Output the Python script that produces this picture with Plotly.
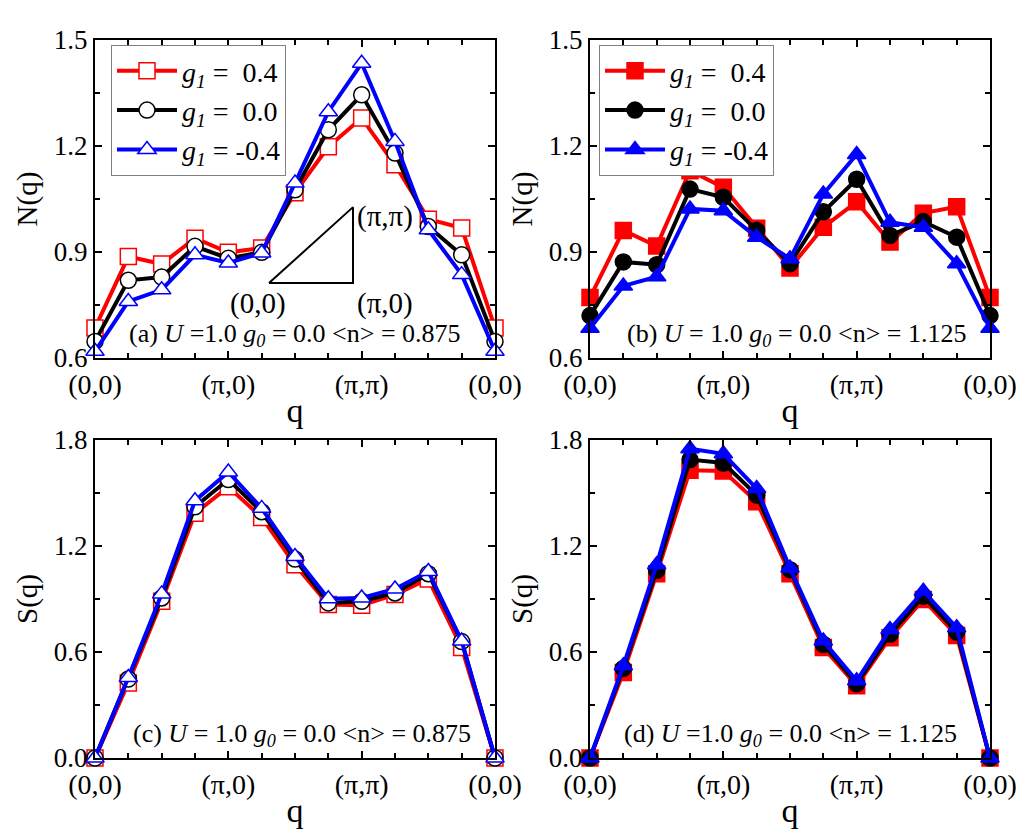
import plotly.graph_objects as go

q_index = list(range(13))
q_tickvals = [0, 4, 8, 12]
q_ticktext = ["(0,0)", "(π,0)", "(π,π)", "(0,0)"]

g1_labels = ["0.4", "0.0", "-0.4"]
colors = ["#FF0000", "#000000", "#0000FF"]
symbols = ["square", "circle", "triangle-up"]

# Panel (a): N(q), <n> = 0.875
Na_p04 = [0.685, 0.887, 0.866, 0.939, 0.899, 0.911, 1.068, 1.198, 1.279, 1.147, 0.993, 0.968, 0.685]
Na_000 = [0.647, 0.820, 0.829, 0.916, 0.882, 0.899, 1.076, 1.246, 1.345, 1.180, 0.972, 0.892, 0.647]
Na_m04 = [0.619, 0.760, 0.793, 0.892, 0.869, 0.897, 1.095, 1.297, 1.434, 1.213, 0.963, 0.836, 0.619]

# Panel (b): N(q), <n> = 1.125
Nb_p04 = [0.771, 0.961, 0.917, 1.130, 1.083, 0.967, 0.855, 0.970, 1.042, 0.928, 1.010, 1.028, 0.771]
Nb_000 = [0.720, 0.872, 0.864, 1.078, 1.055, 0.961, 0.867, 1.014, 1.106, 0.947, 0.986, 0.942, 0.720]
Nb_m04 = [0.684, 0.804, 0.830, 1.022, 1.017, 0.942, 0.881, 1.064, 1.176, 0.984, 0.970, 0.867, 0.684]

# Panel (c): S(q), <n> = 0.875
Sc_p04 = [0.0, 0.424, 0.887, 1.385, 1.535, 1.362, 1.094, 0.869, 0.865, 0.925, 1.013, 0.625, 0.0]
Sc_000 = [0.0, 0.447, 0.906, 1.422, 1.576, 1.394, 1.126, 0.878, 0.887, 0.934, 1.043, 0.659, 0.0]
Sc_m04 = [0.0, 0.456, 0.929, 1.456, 1.619, 1.413, 1.141, 0.901, 0.906, 0.957, 1.056, 0.662, 0.0]

# Panel (d): S(q), <n> = 1.125
Sd_p04 = [0.0, 0.484, 1.043, 1.629, 1.625, 1.450, 1.043, 0.625, 0.409, 0.681, 0.897, 0.694, 0.0]
Sd_000 = [0.0, 0.507, 1.062, 1.689, 1.670, 1.488, 1.066, 0.644, 0.420, 0.700, 0.916, 0.713, 0.0]
Sd_m04 = [0.0, 0.522, 1.094, 1.750, 1.722, 1.525, 1.075, 0.662, 0.437, 0.728, 0.944, 0.737, 0.0]

panel_texts = [
    "(a) <i>U</i> =1.0 <i>g<sub>0</sub></i> = 0.0 &lt;n&gt; = 0.875",
    "(b) <i>U</i> = 1.0 <i>g<sub>0</sub></i> = 0.0 &lt;n&gt; = 1.125",
    "(c) <i>U</i> = 1.0 <i>g<sub>0</sub></i> = 0.0 &lt;n&gt; = 0.875",
    "(d) <i>U</i> =1.0 <i>g<sub>0</sub></i> = 0.0 &lt;n&gt; = 1.125",
]

FONT = "Liberation Serif"
W, H = 1025, 832

def px_x(a, b):
    return [a / W, b / W]

def px_y(top, bottom):
    return [1 - bottom / H, 1 - top / H]

domains = {
    "a": (px_x(95, 495), px_y(40, 358)),
    "b": (px_x(590, 990), px_y(40, 358)),
    "c": (px_x(95, 495), px_y(440, 758)),
    "d": (px_x(590, 990), px_y(440, 758)),
}

fig = go.Figure()

panels = [
    ("a", "x", "y", [Na_p04, Na_000, Na_m04], True, "legend"),
    ("b", "x2", "y2", [Nb_p04, Nb_000, Nb_m04], False, "legend2"),
    ("c", "x3", "y3", [Sc_p04, Sc_000, Sc_m04], True, None),
    ("d", "x4", "y4", [Sd_p04, Sd_000, Sd_m04], False, None),
]

for key, xa, ya, series, is_open, leg in panels:
    for i, vals in enumerate(series):
        pad = "&nbsp;" if not g1_labels[i].startswith("-") else ""
        fig.add_trace(go.Scatter(
            x=q_index, y=vals, xaxis=xa, yaxis=ya,
            mode="lines+markers",
            name=f"<i>g<sub>1</sub></i> = {pad}{g1_labels[i]}",
            line=dict(color=colors[i], width=4),
            marker=dict(symbol=symbols[i], size=16,
                        color="white" if is_open else colors[i],
                        line=dict(color=colors[i], width=1.5)),
            cliponaxis=False,
            showlegend=leg is not None,
            legend=leg if leg else "legend",
        ))

axis_common = dict(
    showline=True, linecolor="black", linewidth=2, mirror="allticks",
    ticks="inside", ticklen=7, tickwidth=1.5, tickcolor="black",
    showgrid=False, zeroline=False, automargin=False,
)

layout = dict(
    template="none",
    width=W, height=H, margin=dict(l=0, r=0, t=0, b=0, autoexpand=False),
    plot_bgcolor="white", paper_bgcolor="white",
    font=dict(family=FONT, color="black"),
)

names = [("a", "xaxis", "yaxis", "x", "y", "N(q)", [0.6, 1.5], [0.6, 0.9, 1.2, 1.5], 0.15),
         ("b", "xaxis2", "yaxis2", "x2", "y2", "N(q)", [0.6, 1.5], [0.6, 0.9, 1.2, 1.5], 0.15),
         ("c", "xaxis3", "yaxis3", "x3", "y3", "S(q)", [0.0, 1.8], [0.0, 0.6, 1.2, 1.8], 0.3),
         ("d", "xaxis4", "yaxis4", "x4", "y4", "S(q)", [0.0, 1.8], [0.0, 0.6, 1.2, 1.8], 0.3)]

for key, xname, yname, xid, yid, ytitle, yr, ytv, ymin in names:
    xd, yd = domains[key]
    layout[xname] = dict(axis_common, domain=xd, anchor=yid, range=[0, 12],
                         tickvals=q_tickvals, ticktext=q_ticktext,
                         tickfont=dict(family=FONT, size=28, color="black"),
                         minor=dict(dtick=1, tick0=0, ticks="inside", ticklen=5, tickwidth=1.5, tickcolor="black"),
                         title=dict(text="q", font=dict(family=FONT, size=34), standoff=0))
    layout[yname] = dict(axis_common, domain=yd, anchor=xid, range=yr,
                         tickvals=ytv, ticktext=[f"{v:.1f}" for v in ytv],
                         tickfont=dict(family=FONT, size=27, color="black"),
                         minor=dict(dtick=ymin, tick0=yr[0], ticks="inside", ticklen=5, tickwidth=1.5, tickcolor="black"),
                         title=dict(text=ytitle, font=dict(family=FONT, size=29), standoff=8))

legend_common = dict(
    bgcolor="white", bordercolor="#808080", borderwidth=1,
    font=dict(family=FONT, size=28, color="black"),
    xanchor="left", yanchor="top", itemwidth=60,
    tracegroupgap=0,
)
layout["legend"] = dict(legend_common, x=111 / W, y=1 - 45 / H)
layout["legend2"] = dict(legend_common, x=599 / W, y=1 - 45 / H)

fig.update_layout(**layout)

# Panel annotations
ann_pos = [("x", "y", 6.0, 0.665), ("x2", "y2", 6.2, 0.665), ("x3", "y3", 6.2, 0.13), ("x4", "y4", 6.0, 0.13)]
for (xr, yr_, xv, yv), txt in zip(ann_pos, panel_texts):
    fig.add_annotation(x=xv, y=yv, xref=xr, yref=yr_, text=txt, showarrow=False,
                       font=dict(family=FONT, size=26, color="black"))

# Inset triangle in panel (a)
tri_x = [5.22, 7.74, 7.74, 5.22]
tri_y = [0.812, 1.027, 0.812, 0.812]
fig.add_trace(go.Scatter(x=tri_x, y=tri_y, xaxis="x", yaxis="y", mode="lines",
                         line=dict(color="black", width=2), showlegend=False, hoverinfo="skip"))
for txt, xv, yv in [("(π,π)", 8.7, 1.0), ("(0,0)", 4.9, 0.755), ("(π,0)", 8.7, 0.755)]:
    fig.add_annotation(x=xv, y=yv, xref="x", yref="y", text=txt, showarrow=False,
                       font=dict(family=FONT, size=29, color="black"))

fig.write_html("out.html")
